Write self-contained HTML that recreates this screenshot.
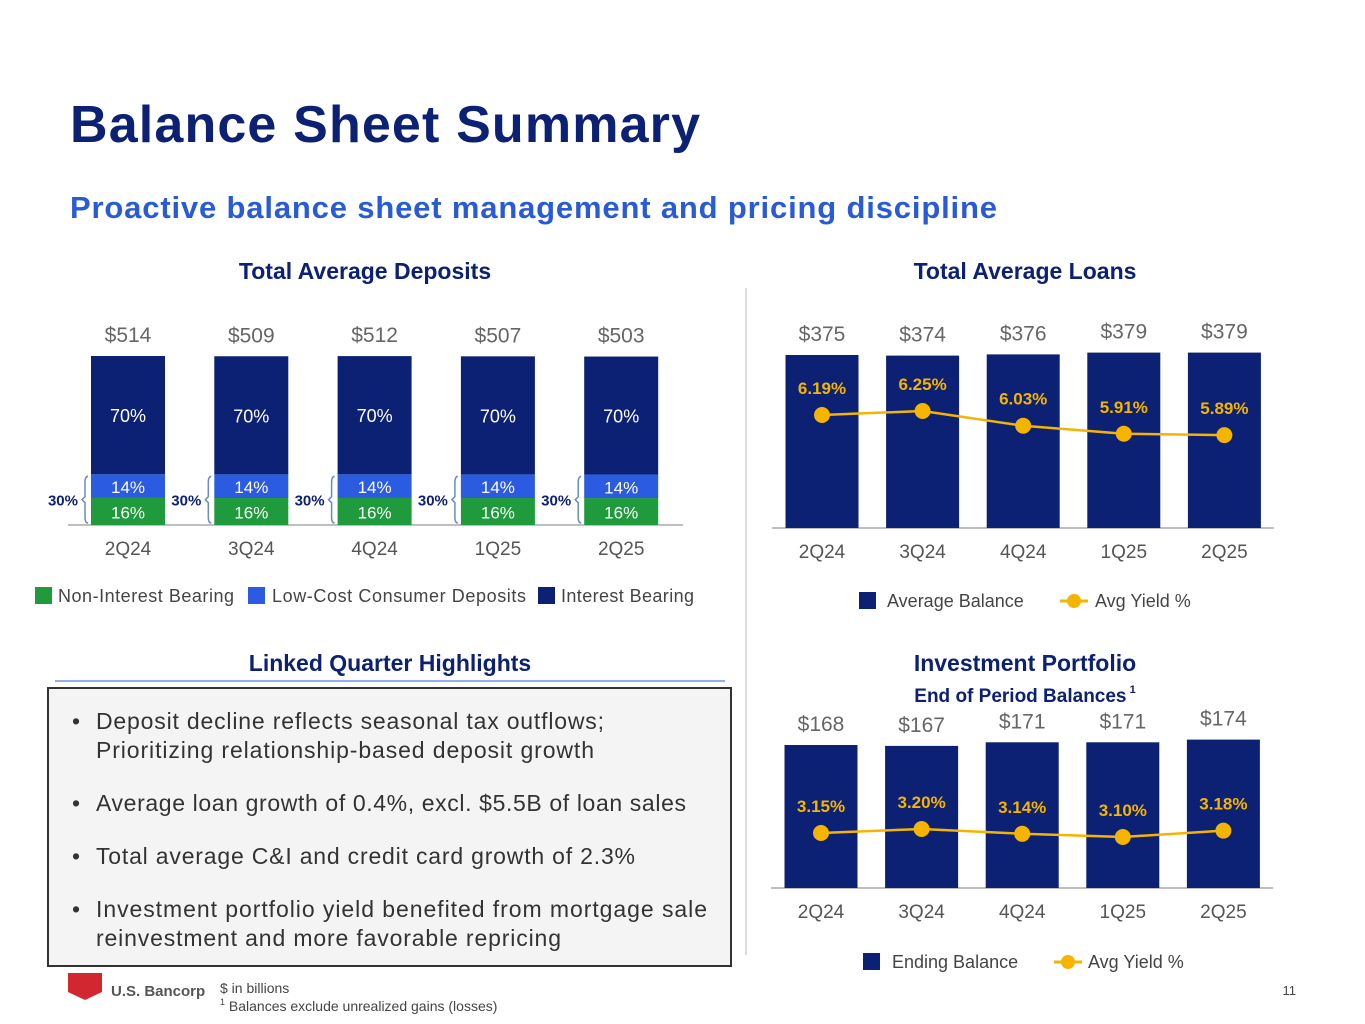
<!DOCTYPE html>
<html><head><meta charset="utf-8"><style>
body{margin:0;width:1365px;height:1024px;background:#fff;overflow:hidden;font-family:"Liberation Sans",sans-serif}
svg{position:absolute;left:0;top:0}
</style></head><body>
<svg id="s" width="1365" height="1024" font-family="Liberation Sans, sans-serif">
<text x="70" y="142" font-size="52" font-weight="bold" fill="#0c2074" textLength="630">Balance Sheet Summary</text>
<text x="70" y="218" font-size="31" font-weight="bold" fill="#2a5bd7" textLength="927">Proactive balance sheet management and pricing discipline</text>
<text x="365" y="279" font-size="23" font-weight="bold" fill="#0c2074" text-anchor="middle">Total Average Deposits</text>
<text x="1025" y="279" font-size="23" font-weight="bold" fill="#0c2074" text-anchor="middle">Total Average Loans</text>
<line x1="746" y1="288" x2="746" y2="955" stroke="#ddd" stroke-width="2"/>
<g id="dep"></g>
<g id="loan"></g>
<g id="inv"></g>
<g font-size="18" fill="#444">
<rect x="35" y="587" width="17" height="17" fill="#1f9a3c"/><text x="58" y="602" textLength="176">Non-Interest Bearing</text>
<rect x="248" y="587" width="17" height="17" fill="#2b5be0"/><text x="272" y="602" textLength="254">Low-Cost Consumer Deposits</text>
<rect x="538" y="587" width="17" height="17" fill="#0c2074"/><text x="561" y="602" textLength="133">Interest Bearing</text>
</g>
<g font-size="18" fill="#444">
<rect x="859" y="592" width="17" height="17" fill="#0c2074"/><text x="887" y="607">Average Balance</text>
<line x1="1060" y1="601" x2="1088" y2="601" stroke="#f5b400" stroke-width="3"/><circle cx="1074" cy="601" r="7" fill="#f5b400"/><text x="1095" y="607">Avg Yield %</text>
</g>
<text x="1025" y="671" font-size="23" font-weight="bold" fill="#0c2074" text-anchor="middle">Investment Portfolio</text>
<text x="1025" y="702" font-size="19" font-weight="bold" fill="#0c2074" text-anchor="middle">End of Period Balances<tspan font-size="11" dy="-9"> 1</tspan></text>
<g font-size="18" fill="#444">
<rect x="863" y="953" width="17" height="17" fill="#0c2074"/><text x="892" y="968">Ending Balance</text>
<line x1="1054" y1="962" x2="1082" y2="962" stroke="#f5b400" stroke-width="3"/><circle cx="1068" cy="962" r="7" fill="#f5b400"/><text x="1088" y="968">Avg Yield %</text>
</g>
<text x="390" y="671" font-size="23" font-weight="bold" fill="#0c2074" text-anchor="middle">Linked Quarter Highlights</text>
<line x1="55" y1="681" x2="725" y2="681" stroke="#2a5bd7" stroke-width="1"/>
<rect x="48" y="688" width="683" height="278" fill="#f4f4f4" stroke="#333" stroke-width="2"/>
<g font-size="23" fill="#333">
<text x="72" y="729">•</text><text x="96" y="729" textLength="508">Deposit decline reflects seasonal tax outflows;</text><text x="96" y="758" textLength="498">Prioritizing relationship-based deposit growth</text>
<text x="72" y="811">•</text><text x="96" y="811" textLength="590">Average loan growth of 0.4%, excl. $5.5B of loan sales</text>
<text x="72" y="864">•</text><text x="96" y="864" textLength="539">Total average C&amp;I and credit card growth of 2.3%</text>
<text x="72" y="917">•</text><text x="96" y="917" textLength="611">Investment portfolio yield benefited from mortgage sale</text><text x="96" y="946" textLength="465">reinvestment and more favorable repricing</text>
</g>
<path d="M68 973 H102 V992 L85 1000 L68 992 Z" fill="#d22630"/>
<text x="111" y="996" font-size="15" font-weight="bold" fill="#555">U.S. Bancorp</text>
<text x="220" y="993" font-size="14" fill="#444">$ in billions</text>
<text x="220" y="1011" font-size="14" fill="#444"><tspan font-size="9" dy="-6">1</tspan><tspan dy="6"> Balances exclude unrealized gains (losses)</tspan></text>
<text x="1296" y="995" font-size="13" fill="#444" text-anchor="end">11</text>
</svg>
<script>
const quarters=["2Q24","3Q24","4Q24","1Q25","2Q25"];
const depTotals=[514,509,512,507,503];
const depNonInt=[16,16,16,16,16];
const depLowCost=[14,14,14,14,14];
const depInt=[70,70,70,70,70];
const loanBal=[375,374,376,379,379];
const loanYield=[6.19,6.25,6.03,5.91,5.89];
const invBal=[168,167,171,171,174];
const invYield=[3.15,3.20,3.14,3.10,3.18];
const NS="http://www.w3.org/2000/svg";
function mk(p,t,a,txt){const e=document.createElementNS(NS,t);for(const k in a)e.setAttribute(k,a[k]);if(txt!=null)e.textContent=txt;p.appendChild(e);return e;}
(function(){
const g=document.getElementById('dep');
const xs=i=>128+i*123.3, base=525;
const hs=v=>169-(514-v)*0.05;
mk(g,'line',{x1:68,y1:base,x2:683,y2:base,stroke:'#aaa','stroke-width':1.5});
quarters.forEach((q,i)=>{
 const x=xs(i),w=74,H=hs(depTotals[i]);
 const tot=depNonInt[i]+depLowCost[i]+depInt[i];
 const hN=H*depNonInt[i]/tot,hL=H*depLowCost[i]/tot,hI=H*depInt[i]/tot;
 let r=mk(g,'rect',{x:x-w/2,y:base-hN,width:w,height:hN,fill:'#1f9a3c'});
 
 r=mk(g,'rect',{x:x-w/2,y:base-hN-hL,width:w,height:hL,fill:'#2b5be0'});
 
 r=mk(g,'rect',{x:x-w/2,y:base-H,width:w,height:hI,fill:'#0c2074'});
 
 mk(g,'text',{x:x,y:base-hN/2+7,'font-size':17,fill:'#fff','text-anchor':'middle'},depNonInt[i]+'%');
 mk(g,'text',{x:x,y:base-hN-hL/2+7,'font-size':17,fill:'#fff','text-anchor':'middle'},depLowCost[i]+'%');
 mk(g,'text',{x:x,y:base-H+hI/2+7,'font-size':18,fill:'#fff','text-anchor':'middle'},depInt[i]+'%');
 let t=mk(g,'text',{x:x,y:base-H-14,'font-size':21,fill:'#666','text-anchor':'middle'},'$'+depTotals[i]);
 
 mk(g,'text',{x:x,y:base+30,'font-size':19,fill:'#555','text-anchor':'middle'},q);
 const bx=x-w/2-6,yt=base-hN-hL+2,yb=base-2;
 mk(g,'path',{d:`M${bx+3} ${yt} Q${bx} ${yt} ${bx} ${yt+6} V${(yt+yb)/2-3} L${bx-3} ${(yt+yb)/2} L${bx} ${(yt+yb)/2+3} V${yb-6} Q${bx} ${yb} ${bx+3} ${yb}`,fill:'none',stroke:'#6a8bbf','stroke-width':1.5});
 mk(g,'text',{x:bx-7,y:(yt+yb)/2+6,'font-size':15,'font-weight':'bold',fill:'#0c2074','text-anchor':'end'},(depNonInt[i]+depLowCost[i])+'%');
});
})();
function combo(id,bal,yld,opt){
 const g=document.getElementById(id);
 const xs=i=>opt.x0+i*100.6, base=opt.base;
 mk(g,'line',{x1:opt.x0-50,y1:base,x2:opt.x0+452,y2:base,stroke:'#aaa','stroke-width':1.5});
 const pts=[];
 quarters.forEach((q,i)=>{
  const x=xs(i),w=73,H=opt.h(bal[i]);
  const r=mk(g,'rect',{x:x-w/2,y:base-H,width:w,height:H,fill:'#0c2074'});
  
  const t=mk(g,'text',{x:x,y:base-H-14,'font-size':21,fill:'#666','text-anchor':'middle'},'$'+bal[i]);
  
  mk(g,'text',{x:x,y:base+30,'font-size':19,fill:'#555','text-anchor':'middle'},q);
  pts.push([x,opt.y(yld[i])]);
 });
 const l=mk(g,'polyline',{points:pts.map(p=>p.join(',')).join(' '),fill:'none',stroke:'#f5b400','stroke-width':2.5});
 
 pts.forEach((p,i)=>{
  const c=mk(g,'circle',{cx:p[0],cy:p[1],r:8,fill:'#f5b400'});
  
  mk(g,'text',{x:p[0],y:p[1]-21,'font-size':17,'font-weight':'bold',fill:'#f5b400','text-anchor':'middle'},yld[i].toFixed(2)+'%');
 });
}
combo('loan',loanBal,loanYield,{name:'loans',x0:822,base:528,h:v=>173+(v-375)*0.6,y:v=>411+(6.25-v)*67});
combo('inv',invBal,invYield,{name:'investment',x0:821,base:888,h:v=>143+(v-168)*0.9,y:v=>829+(3.20-v)*80});
</script>
</body></html>
